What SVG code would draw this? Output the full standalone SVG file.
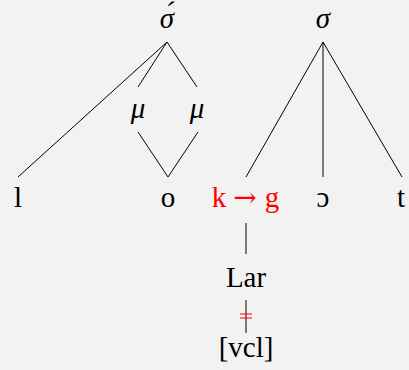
<svg xmlns="http://www.w3.org/2000/svg" width="409" height="370" viewBox="0 0 409 370">
<style>
text{font-family:"Liberation Serif","DejaVu Serif",serif;font-size:29px;text-anchor:middle;fill:#000}
.it{font-style:italic}
.red{fill:#ff0000}
.arr{font-family:"DejaVu Serif",serif;font-size:28px}
.edges line{stroke:#000;stroke-width:1}
</style>
<rect width="409" height="370" fill="#f2f2f2"/>
<g class="edges" id="connectors">
<line x1="167" y1="42" x2="18" y2="177"/>
<line x1="167" y1="42" x2="138" y2="87"/>
<line x1="167" y1="42" x2="197" y2="87"/>
<line x1="138" y1="132" x2="168" y2="177"/>
<line x1="198" y1="132" x2="168" y2="177"/>
<line x1="323" y1="42" x2="246" y2="177"/>
<line x1="323" y1="42" x2="323" y2="177"/>
<line x1="323" y1="42" x2="402" y2="177"/>
<line x1="246" y1="223" x2="246" y2="254"/>
<line x1="246" y1="300" x2="246" y2="333"/>
<line x1="240" y1="314" x2="252" y2="314" style="stroke:#ff0000"/>
<line x1="240" y1="318" x2="252" y2="318" style="stroke:#ff0000"/>
</g>
<g id="sigma1"><text class="it" x="167" y="28">σ́</text></g>
<g id="sigma2"><text class="it" x="323" y="28">σ</text></g>
<g id="mu1"><text class="it" x="138" y="118">μ</text></g>
<g id="mu2"><text class="it" x="197" y="118">μ</text></g>
<g id="l"><text x="18" y="207">l</text></g>
<g id="o"><text x="168" y="207">o</text></g>
<g id="kg"><text class="red" x="219" y="207">k</text><text class="red arr" x="245" y="207">→</text><text class="red" x="272" y="207">g</text></g>
<g id="open-o"><text x="323" y="207">ɔ</text></g>
<g id="t"><text x="401" y="207">t</text></g>
<g id="Lar"><text x="246" y="287">Lar</text></g>
<g id="vcl"><text x="246" y="357">[vcl]</text></g>
</svg>
